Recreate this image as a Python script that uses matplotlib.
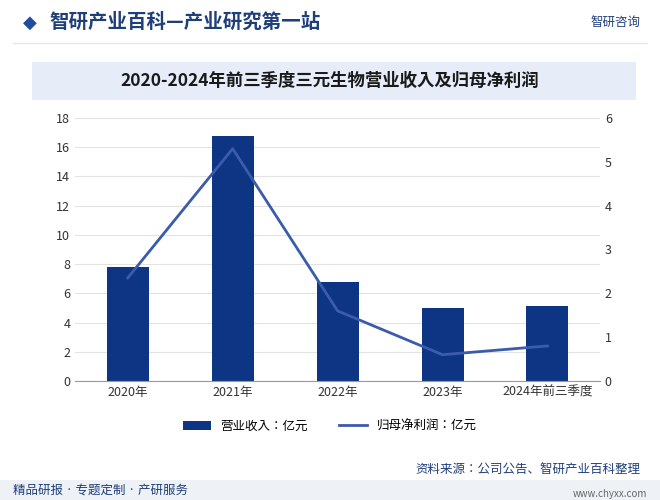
import matplotlib.pyplot as plt
from matplotlib import font_manager
from matplotlib.patches import Rectangle
from matplotlib.lines import Line2D

names = sorted({f.name for f in font_manager.fontManager.ttflist if 'CJK' in f.name})
print(names)
cjk = names[0] if names else 'DejaVu Sans'
plt.rcParams['font.family'] = [cjk, 'DejaVu Sans']

years = ['2020年', '2021年', '2022年', '2023年', '2024年前三季度']
revenue = [7.8, 16.8, 6.8, 5.0, 5.1]
profit = [2.35, 5.3, 1.6, 0.6, 0.8]

fig = plt.figure(figsize=(6.6, 5), dpi=100)
fig.patch.set_facecolor('white')

# header
fig.text(0.035, 0.955, '◆', color='#1f4e9c', fontsize=13, va='center', family='DejaVu Sans')
fig.text(0.075, 0.955, '智研产业百科—产业研究第一站', color='#1f3f7a', fontsize=14,
         fontweight='bold', va='center')
fig.text(0.97, 0.955, '智研咨询', color='#1f3f7a', fontsize=9, va='center', ha='right')
fig.add_artist(Line2D([0.02, 0.98], [0.915, 0.915], color='#dfe6f0', lw=1))

# title box
fig.add_artist(Rectangle((0.048, 0.8), 0.916, 0.076, facecolor='#e6edf8',
                         edgecolor='none', transform=fig.transFigure))
fig.text(0.5, 0.838, '2020-2024年前三季度三元生物营业收入及归母净利润', ha='center',
         va='center', fontsize=12.5, fontweight='bold', color='#1a1a1a')

ax = fig.add_axes([0.114, 0.238, 0.795, 0.526])
x = range(len(years))
ax.bar(x, revenue, width=0.4, color='#0e3583', label='营业收入：亿元', zorder=2)
ax.set_ylim(0, 18)
ax.set_yticks(range(0, 19, 2))
ax.set_xlim(-0.5, 4.5)
ax.set_xticks(list(x))
ax.set_xticklabels(years)
ax.grid(axis='y', color='#e3e3e3', lw=0.8, zorder=0)
for s in ['top', 'right', 'left']:
    ax.spines[s].set_visible(False)
ax.spines['bottom'].set_color('#999999')
ax.tick_params(length=0, labelsize=9, colors='#333333')

ax2 = ax.twinx()
ax2.plot(x, profit, color='#3b5bab', lw=2, label='归母净利润：亿元')
ax2.set_ylim(0, 6)
ax2.set_yticks(range(0, 7))
for s in ax2.spines.values():
    s.set_visible(False)
ax2.tick_params(length=0, labelsize=9, colors='#333333')

h1, l1 = ax.get_legend_handles_labels()
h2, l2 = ax2.get_legend_handles_labels()
fig.legend(h1 + h2, l1 + l2, loc='center', bbox_to_anchor=(0.5, 0.148), ncol=2,
           frameon=False, fontsize=9, handlelength=2.2, columnspacing=2.5)

# footer
fig.text(0.63, 0.062, '资料来源：公司公告、智研产业百科整理', fontsize=9, color='#1f3f7a', va='center')
fig.add_artist(Rectangle((0, 0), 1, 0.04, facecolor='#eef1f6', edgecolor='none',
                         transform=fig.transFigure))
fig.text(0.02, 0.02, '精品研报 · 专题定制 · 产研服务', fontsize=9, color='#1f3f7a', va='center')
fig.text(0.98, 0.012, 'www.chyxx.com', fontsize=7, color='#666666', va='center', ha='right')

fig.savefig('out.png', dpi=100)
